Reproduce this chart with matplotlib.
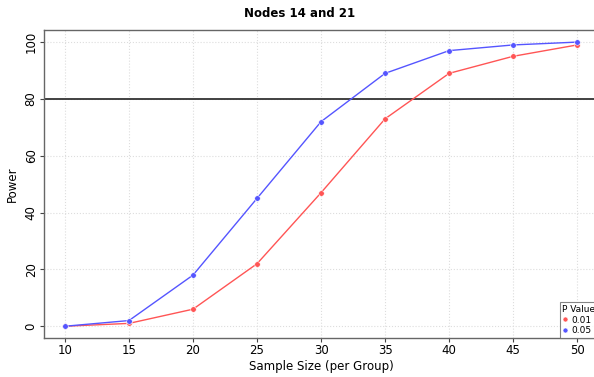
import matplotlib
matplotlib.use("Agg")
import matplotlib.pyplot as plt

# sample sizes and power curves
sample_size = [10, 15, 20, 25, 30, 35, 40, 45, 50]
power_p01 = [0, 1, 6, 22, 47, 73, 89, 95, 99]
power_p05 = [0, 2, 18, 45, 72, 89, 97, 99, 100]
x_ticks = [10, 15, 20, 25, 30, 35, 40, 45, 50]
y_ticks = [0, 20, 40, 60, 80, 100]

red = '#FF5555'
blue = '#5555FF'

fig = plt.figure(figsize=(5.94, 3.77), dpi=100)
ax = fig.add_axes([0.074, 0.103, 0.933, 0.817])

ax.plot(sample_size, power_p01, color=red, lw=1.0, marker='o', ms=4,
        mec='white', mew=0.4, label='0.01', zorder=3)
ax.plot(sample_size, power_p05, color=blue, lw=1.0, marker='o', ms=4,
        mec='white', mew=0.4, label='0.05', zorder=3)
ax.axhline(80, color='#333333', lw=1.3, zorder=2)

ax.set_xlim(8.36, 51.64)
ax.set_ylim(-4.2, 104.2)
ax.set_xticks(x_ticks)
ax.set_yticks(y_ticks)
ax.grid(True, color='#DDDDDD', linestyle=':', linewidth=0.8)
for s in ax.spines.values():
    s.set_color('#666666')
    s.set_linewidth(1.0)
ax.tick_params(labelsize=8.5, color='#444444', length=3, pad=1.5)
for lab in ax.get_yticklabels():
    lab.set_rotation(90)
    lab.set_va('center')

ax.set_xlabel('Sample Size (per Group)', fontsize=8.5, labelpad=2)
ax.set_ylabel('Power', fontsize=8.5, labelpad=4)
fig.text(0.505, 0.965, 'Nodes 14 and 21', ha='center', va='center',
         fontsize=8.5, fontweight='bold')

leg = ax.legend(title='P Value', loc='lower right', fontsize=6.5,
                title_fontsize=6.5, frameon=True, fancybox=False,
                borderaxespad=0, handlelength=0.6, handletextpad=0.4,
                markerscale=0.9, labelspacing=0.2, borderpad=0.3)
leg.get_frame().set_edgecolor('#666666')
leg.get_frame().set_linewidth(0.8)
for h in leg.legend_handles:
    h.set_linestyle('none')
leg._legend_box.align = 'left'

fig.savefig('out.png', dpi=100, facecolor='white')
